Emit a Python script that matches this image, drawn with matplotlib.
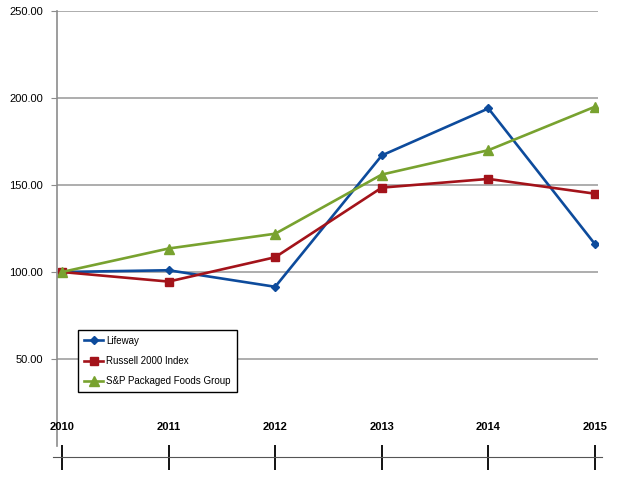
import numpy as np
import matplotlib.pyplot as plt
import matplotlib.transforms as mtransforms

years = [2010, 2011, 2012, 2013, 2014, 2015]
lifeway = [100.0, 101.0, 91.5, 167.0, 194.0, 116.0]
russell = [100.0, 94.5, 108.5, 148.5, 153.5, 145.0]
sp_foods = [100.0, 113.5, 122.0, 156.0, 170.0, 195.0]
y_ticks = [50, 100, 150, 200, 250]

W, H = 632, 478
fig = plt.figure(figsize=(W / 100, H / 100), dpi=100)

# main plot area, pixel positions
left, right, top, bottom = 57, 598, 11, 446
ax = fig.add_axes([left / W, 1 - bottom / H, (right - left) / W, (bottom - top) / H])
step = (595 - 62) / 5.0
ax.set_xlim(2010 - 5 / step, 2015 + 3 / step)
ax.set_ylim(0, 250)

for s in ["top", "right", "bottom"]:
    ax.spines[s].set_visible(False)
ax.spines["left"].set_color("#8c8c8c")
ax.spines["left"].set_linewidth(1.2)

ax.set_yticks(y_ticks)
ax.set_yticklabels(["%.2f" % v for v in y_ticks], fontsize=8, family="Liberation Sans")
ax.tick_params(axis="y", length=4, color="#8c8c8c", pad=6)
ax.set_xticks([])
ax.grid(axis="y", color="#a0a0a0", linewidth=1.2)
ax.set_axisbelow(True)

ax.plot(years, lifeway, color="#0d4b9c", lw=1.9, marker="D", ms=4.5, label="Lifeway")
ax.plot(years, russell, color="#a3131a", lw=1.9, marker="s", ms=6, label="Russell 2000 Index")
ax.plot(years, sp_foods, color="#78a22f", lw=1.9, marker="^", ms=6.5, label="S&P Packaged Foods Group")

leg = ax.legend(loc="upper left", bbox_to_anchor=((78 - left) / (right - left), (bottom - 330) / (bottom - top)),
                borderaxespad=0, fancybox=False, edgecolor="black", framealpha=1,
                prop={"family": "Liberation Sans", "size": 7}, handlelength=2.0,
                handletextpad=0.3, labelspacing=1.05, borderpad=0.6)
leg.get_frame().set_linewidth(1.0)

# separate year axis drawn below the plot
ax2 = fig.add_axes([53 / W, 1 - 470 / H, (602 - 53) / W, 40 / H])
ax2.patch.set_visible(False)
for s in ["top", "right", "left"]:
    ax2.spines[s].set_visible(False)
ax2.set_xlim(2010 - 9 / step, 2015 + 7 / step)
ax2.set_ylim(0, 1)
ax2.set_yticks([])
ax2.spines["bottom"].set_position(("axes", 13 / 40))
ax2.spines["bottom"].set_color("#555555")
ax2.set_xticks(years)
ax2.set_xticklabels([])
ax2.tick_params(axis="x", direction="inout", length=18, width=1.3, color="black")
trans = mtransforms.blended_transform_factory(ax2.transData, ax2.transAxes)
for yr in years:
    ax2.text(yr, 43 / 40, str(yr), transform=trans, ha="center", va="center",
             fontsize=8, fontweight="bold", family="Liberation Sans")

fig.savefig("out.png", dpi=100)
